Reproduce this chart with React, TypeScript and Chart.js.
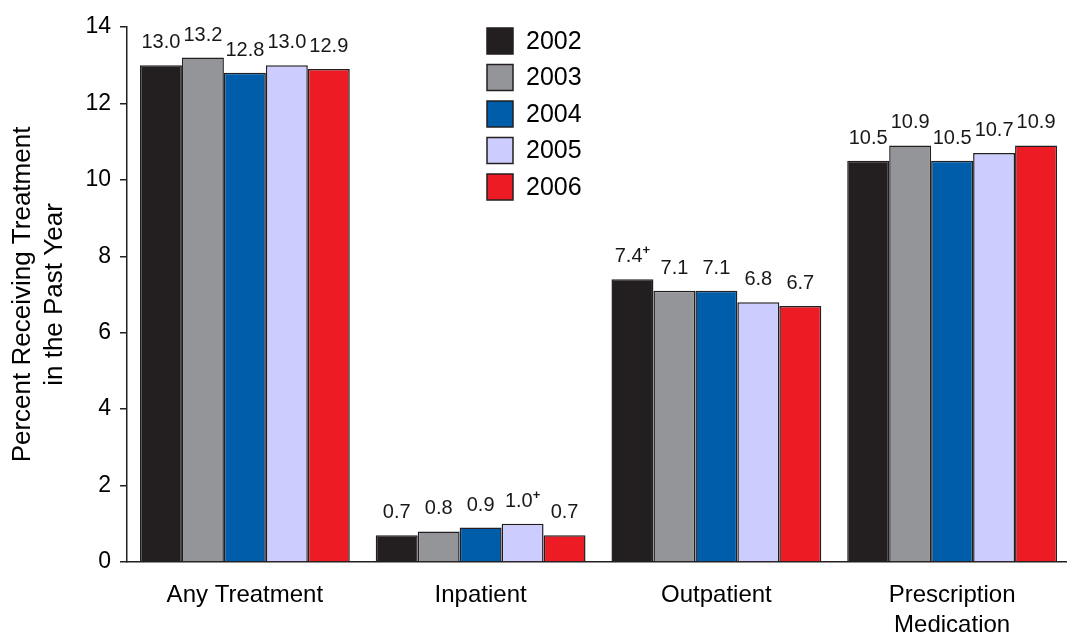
import React, { useEffect, useRef } from "react";
import { Chart, registerables } from "chart.js";

Chart.register(...registerables);

const categories: (string | string[])[] = [
  "Any Treatment",
  "Inpatient",
  "Outpatient",
  ["Prescription", "Medication"],
];
const years = ["2002", "2003", "2004", "2005", "2006"];
const values2002 = [13.0, 0.7, 7.4, 10.5];
const values2003 = [13.2, 0.8, 7.1, 10.9];
const values2004 = [12.8, 0.9, 7.1, 10.5];
const values2005 = [13.0, 1.0, 6.8, 10.7];
const values2006 = [12.9, 0.7, 6.7, 10.9];
const marks2002 = ["", "", "+", ""];
const marks2003 = ["", "", "", ""];
const marks2004 = ["", "", "", ""];
const marks2005 = ["", "+", "", ""];
const marks2006 = ["", "", "", ""];
const yTicks = [0, 2, 4, 6, 8, 10, 12, 14];
const colors = ["#231f20", "#939598", "#005daa", "#ccccff", "#ed1c24"];

const FONT = "'Liberation Sans', Arial, sans-serif";

const seriesValues = [values2002, values2003, values2004, values2005, values2006];
const seriesMarks = [marks2002, marks2003, marks2004, marks2005, marks2006];

const labelPlugin = {
  id: "barLabels",
  afterDatasetsDraw(chart: any) {
    const ctx = chart.ctx;
    ctx.save();
    chart.data.datasets.forEach((ds: any, di: number) => {
      const meta = chart.getDatasetMeta(di);
      meta.data.forEach((bar: any, i: number) => {
        const v = ds.data[i];
        const txt = v.toFixed(1);
        const mark = seriesMarks[di][i];
        ctx.font = `20px ${FONT}`;
        ctx.fillStyle = "#1a1718";
        ctx.textBaseline = "alphabetic";
        const w = ctx.measureText(txt).width;
        ctx.font = `bold 13px ${FONT}`;
        const mw = mark ? ctx.measureText(mark).width : 0;
        const total = w + mw;
        const x0 = bar.x - total / 2;
        const yb = bar.y - 17;
        ctx.font = `20px ${FONT}`;
        ctx.textAlign = "left";
        ctx.fillText(txt, x0, yb);
        if (mark) {
          ctx.font = `bold 13px ${FONT}`;
          ctx.fillText(mark, x0 + w, yb - 8);
        }
      });
    });
    ctx.restore();
  },
};

const legendPlugin = {
  id: "boxLegend",
  afterDraw(chart: any, _args: any, opts: any) {
    const ctx = chart.ctx;
    ctx.save();
    chart.data.datasets.forEach((ds: any, i: number) => {
      const y = opts.y + i * opts.gap;
      ctx.fillStyle = ds.backgroundColor;
      ctx.fillRect(opts.x, y, opts.size, opts.size);
      ctx.lineWidth = 1.5;
      ctx.strokeStyle = "#231f20";
      ctx.strokeRect(opts.x, y, opts.size, opts.size);
      ctx.fillStyle = "#000";
      ctx.font = `25px ${FONT}`;
      ctx.textAlign = "left";
      ctx.textBaseline = "middle";
      ctx.fillText(ds.label, opts.x + opts.size + 13, y + opts.size / 2 + 1);
    });
    ctx.restore();
  },
};

export default function App() {
  const ref = useRef<HTMLCanvasElement>(null);
  useEffect(() => {
    document.body.style.margin = "0";
    document.body.style.overflow = "hidden";
    document.documentElement.style.overflow = "hidden";
    const chart = new Chart(ref.current!, {
      type: "bar",
      data: {
        labels: categories,
        datasets: years.map((y, i) => ({
          label: y,
          data: seriesValues[i],
          backgroundColor: colors[i],
          borderColor: "#231f20",
          borderWidth: 1.5,
          barPercentage: 1,
          categoryPercentage: 0.89,
        })),
      },
      options: {
        animation: false,
        responsive: false,
        maintainAspectRatio: false,
        layout: { padding: { top: 27, right: 0, left: 0, bottom: 0 } },
        plugins: {
          legend: { display: false },
          tooltip: { enabled: false },
          boxLegend: { x: 487, y: 28, size: 26, gap: 36.5 },
        } as any,
        scales: {
          x: {
            grid: { display: false },
            border: { display: true, color: "#231f20", width: 1.5 },
            ticks: {
              color: "#000",
              font: { family: FONT, size: 24, lineHeight: 1.25 },
              padding: 10,
              maxRotation: 0,
              autoSkip: false,
            },
            afterFit(scale: any) {
              scale.height = 78;
            },
          },
          y: {
            min: 0,
            max: 14,
            afterBuildTicks(scale: any) {
              scale.ticks = yTicks.map((v) => ({ value: v }));
            },
            grid: {
              drawOnChartArea: false,
              drawTicks: true,
              tickLength: 7,
              color: "#231f20",
              lineWidth: 1.5,
            },
            border: { display: true, color: "#231f20", width: 1.5 },
            ticks: {
              color: "#000",
              font: { family: FONT, size: 23 },
              padding: 9,
            },
            title: {
              display: true,
              text: ["Percent Receiving Treatment", "in the Past Year"],
              color: "#000",
              font: { family: FONT, size: 26, lineHeight: 1.23 },
              padding: { top: 7, bottom: 0 },
            },
            afterFit(scale: any) {
              scale.width = 127;
            },
          },
        },
      },
      plugins: [labelPlugin, legendPlugin],
    });
    return () => chart.destroy();
  }, []);
  return (
    <div style={{ width: 1067, height: 640, overflow: "hidden" }}>
      <canvas ref={ref} width={1070} height={640} style={{ display: "block" }} />
    </div>
  );
}
